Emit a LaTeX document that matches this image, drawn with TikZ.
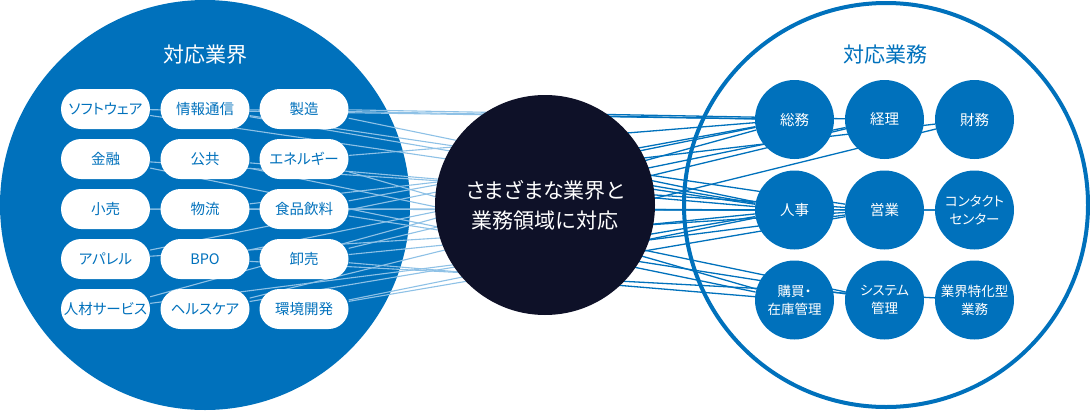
\documentclass[tikz,border=0pt]{standalone}
\usepackage{fontspec}
\setmainfont{Noto Sans CJK JP}[RawFeature=+palt]
\definecolor{corpblue}{HTML}{0071BC}
\definecolor{hubnavy}{HTML}{0E1128}
\definecolor{linkpale}{HTML}{8EC1E6}
\pgfdeclarelayer{back}
\pgfdeclarelayer{links}
\pgfsetlayers{back,links,main}
% every connector, from an industry pill to a business circle
\newcommand{\alllinks}{%
        \draw (soft) -- (pers); \draw (soft) -- (gen);
        \draw (info) -- (gen); \draw (info) -- (sales); \draw (info) -- (pers);
        \draw (mfg) -- (acct); \draw (mfg) -- (pers);
        \draw (fin) -- (sales); \draw (fin) -- (purch);
        \draw (pub) -- (pers); \draw (pub) -- (sys);
        \draw (energy) -- (gen); \draw (energy) -- (purch);
        \draw (retail) -- (contact); \draw (retail) -- (pers);
        \draw (logi) -- (treas); \draw (logi) -- (contact);
        \draw (food) -- (pers); \draw (food) -- (sys); \draw (food) -- (gen);
        \draw (apparel) -- (sales); \draw (apparel) -- (gen);
        \draw (bpo) -- (acct); \draw (bpo) -- (spec);
        \draw (whole) -- (pers); \draw (whole) -- (purch); \draw (whole) -- (acct);
        \draw (hr) -- (gen); \draw (hr) -- (sales);
        \draw (health) -- (treas); \draw (health) -- (pers);
        \draw (env) -- (pers); \draw (env) -- (sales);
}
\begin{document}
\begin{tikzpicture}[x=1pt,y=-1pt,
        pill/.style={fill=white,rounded corners=20pt,minimum width=89pt,minimum height=40pt,inner sep=0pt,text=corpblue,font=\fontsize{14.5}{16}\selectfont},
        work/.style={circle,fill=corpblue,minimum size=79pt,inner sep=0pt,text=white,align=center,font=\fontsize{14.5}{18}\selectfont}]
        \useasboundingbox (0,0) rectangle (1090,410);
        \begin{pgfonlayer}{back}
            \fill[corpblue] (205,205) circle [radius=205pt];
        \end{pgfonlayer}
        \draw[corpblue,line width=4pt] (886,205) circle [radius=202pt];
        % industries
        \node[text=white,font=\fontsize{21}{24}\selectfont] (indttl) at (205,55) {対応業界};
        \node[pill] (soft) at (105.5,109) {ソフトウェア};
        \node[pill] (info) at (205,109) {情報通信};
        \node[pill] (mfg) at (304,109) {製造};
        \node[pill] (fin) at (105.5,159) {金融};
        \node[pill] (pub) at (205,159) {公共};
        \node[pill] (energy) at (304,159) {エネルギー};
        \node[pill] (retail) at (105.5,209) {小売};
        \node[pill] (logi) at (205,209) {物流};
        \node[pill] (food) at (304,209) {食品飲料};
        \node[pill] (apparel) at (105.5,259) {アパレル};
        \node[pill] (bpo) at (205,259) {BPO};
        \node[pill] (whole) at (304,259) {卸売};
        \node[pill] (hr) at (105.5,309) {人材サービス};
        \node[pill] (health) at (205,309) {ヘルスケア};
        \node[pill] (env) at (304,309) {環境開発};
        % hub
        \node[circle,fill=hubnavy,minimum size=220pt,inner sep=0pt,text=white,align=center,font=\fontsize{21}{30}\selectfont] (hub) at (545,205) {さまざまな業界と\\業務領域に対応};
        % business areas
        \node[text=corpblue,font=\fontsize{21}{24}\selectfont] (bizttl) at (885,55) {対応業務};
        \node[work] (gen) at (794.5,119.5) {総務};
        \node[work] (acct) at (884.5,119.5) {経理};
        \node[work] (treas) at (974.5,119.5) {財務};
        \node[work] (pers) at (794.5,210) {人事};
        \node[work] (sales) at (884.5,210) {営業};
        \node[work,font=\fontsize{13.5}{18}\selectfont] (contact) at (974.5,210) {コンタクト\\センター};
        \node[work,font=\fontsize{13.5}{18}\selectfont] (purch) at (794.5,300) {購買・\\在庫管理};
        \node[work,font=\fontsize{13.5}{18}\selectfont] (sys) at (884.5,300) {システム\\管理};
        \node[work,font=\fontsize{13.5}{18}\selectfont] (spec) at (974.5,300) {業界特化型\\業務};
        \begin{pgfonlayer}{links}
            \begin{scope}[linkpale,line width=1.1pt]
                \clip (0,0) rectangle (545,410);
                \alllinks
            \end{scope}
            \begin{scope}[corpblue,line width=1.3pt]
                \clip (545,0) rectangle (1090,410);
                \alllinks
            \end{scope}
        \end{pgfonlayer}
    \end{tikzpicture}
\end{document}
